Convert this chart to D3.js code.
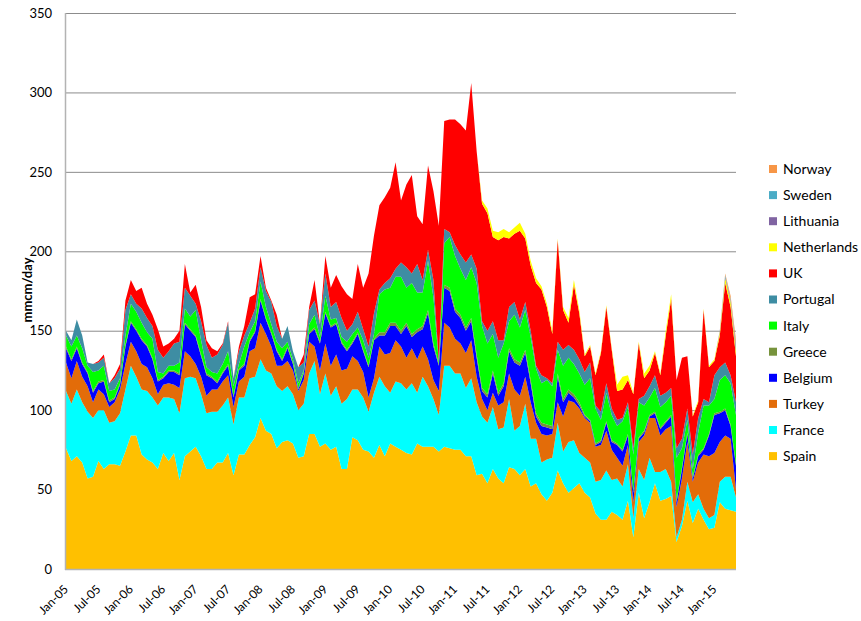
<!DOCTYPE html>
<html>
<head>
<meta charset="utf-8">
<script src="https://cdn.jsdelivr.net/npm/d3@7"></script>
<style>
  body { margin: 0; background: #fff; }
  svg { font-family: Lato, "Liberation Sans", sans-serif; }
</style>
</head>
<body>
<svg id="chart" width="861" height="621"></svg>
<script>
// monthly categories, Jan-05 .. May-15
const months = d3.timeMonth.range(new Date(2005, 0, 1), new Date(2015, 5, 1)).map(d3.timeFormat("%b-%y"));
const tickLabels = ["Jan-05","Jul-05","Jan-06","Jul-06","Jan-07","Jul-07","Jan-08","Jul-08","Jan-09","Jul-09",
  "Jan-10","Jul-10","Jan-11","Jul-11","Jan-12","Jul-12","Jan-13","Jul-13","Jan-14","Jul-14","Jan-15"];
const yTicks = [0, 50, 100, 150, 200, 250, 300, 350];

// values in mmcm/day, one row per year
const spain = [
  76,68,71,67,57,58,68,63,66,66,65,74,
  84,84,72,69,67,63,73,68,73,56,71,74,
  77,71,63,63,67,67,73,59,72,72,78,83,
  95,87,85,76,80,81,79,70,71,85,85,77,
  79,75,77,63,63,83,81,75,74,70,78,71,
  79,77,75,73,72,79,77,77,77,74,77,76,
  75,75,71,71,59,60,54,63,57,54,64,63,
  59,63,52,54,47,43,48,62,54,48,51,54,
  48,45,35,31,31,36,34,31,43,20,48,32,
  42,54,43,44,46,17,27,43,29,38,31,25,
  26,42,38,37,36];
const france = [
  36,36,42,38,42,37,32,37,26,27,33,39,
  44,37,41,43,41,40,35,40,34,42,49,47,
  43,39,35,36,32,36,35,32,36,36,42,38,
  37,38,38,39,32,34,31,30,33,38,46,33,
  44,34,38,41,44,30,32,33,25,41,43,44,
  32,41,42,40,45,32,44,38,30,23,51,52,
  48,48,43,49,46,36,38,39,31,35,43,24,
  31,41,30,28,20,26,22,30,20,32,30,19,
  22,22,20,25,31,20,23,21,23,12,15,24,
  28,7,18,19,9,3,4,12,13,9,7,7,
  8,13,20,21,9];
const turkey = [
  18,16,18,16,16,10,13,10,10,12,15,16,
  15,16,16,15,12,7,8,9,9,16,17,13,
  9,11,11,14,14,15,14,11,10,13,17,18,
  23,23,17,13,16,16,15,12,15,20,9,15,
  19,19,20,21,19,21,18,16,9,9,19,20,
  25,26,23,20,22,21,19,17,12,15,27,24,
  22,19,22,24,16,11,8,9,15,16,16,26,
  19,17,23,10,18,15,15,13,22,26,24,28,
  25,25,22,22,25,19,13,13,12,10,17,28,
  25,34,23,25,35,19,26,25,13,20,34,39,
  39,25,26,24,5];
const belgium = [
  9,11,8,8,8,6,4,8,3,2,3,11,
  12,13,15,13,12,8,4,7,8,8,17,16,
  17,13,13,7,4,5,6,6,7,7,6,10,
  14,9,8,9,3,8,4,1,4,5,11,17,
  19,24,19,17,11,8,17,13,19,24,7,12,
  17,9,8,20,7,17,11,29,21,16,22,23,
  17,16,14,12,12,5,8,12,6,10,14,17,
  19,15,12,4,5,5,3,16,9,5,3,2,
  1,1,1,2,5,5,8,9,6,6,2,2,
  1,3,4,4,6,3,6,5,2,4,3,13,
  24,18,16,8,15];
const greece = [
  1,1,1,1,1,1,1,1,1,1,1,1,
  1,1,1,1,1,1,1,1,1,1,1,1,
  1,1,1,1,1,1,1,1,1,1,1,1,
  1,1,1,1,1,1,1,1,1,1,1,1,
  1,1,1,1,1,1,1,1,1,1,2,2,
  2,2,2,2,2,2,2,2,2,1,2,2,
  2,2,2,2,2,2,2,2,2,2,2,2,
  2,2,2,2,2,2,2,2,2,2,2,2,
  1,1,1,1,1,1,1,1,1,1,1,1,
  1,1,1,1,1,1,1,1,1,1,1,1,
  1,1,1,1,1];
const italy = [
  7,8,7,9,4,12,7,9,6,5,3,6,
  11,11,10,8,12,5,2,3,3,7,9,8,
  16,9,4,3,5,5,8,6,3,11,5,6,
  11,7,5,5,7,3,2,3,1,5,8,3,
  10,4,3,3,5,5,3,6,5,3,24,27,
  22,29,34,22,32,23,21,31,29,1,26,32,
  33,29,30,32,45,39,32,23,22,25,17,28,
  22,25,27,28,25,28,25,15,21,20,19,18,
  19,26,22,13,18,16,11,18,17,23,22,16,
  11,15,13,12,12,27,12,8,5,14,27,18,
  9,20,21,26,31];
const portugal = [
  3,4,10,8,2,5,5,5,5,7,6,16,
  6,5,9,9,8,14,10,9,14,13,13,13,
  4,12,14,9,12,12,18,5,8,7,6,8,
  9,10,14,10,6,10,5,10,5,9,9,8,
  14,8,10,12,7,6,10,7,7,13,3,4,
  6,5,9,13,6,18,8,7,11,1,9,3,
  7,9,11,8,9,3,8,8,11,2,9,8,
  5,5,4,2,5,1,2,5,10,8,9,9,
  8,10,2,5,6,4,4,2,3,4,2,6,
  7,8,7,6,5,6,6,7,9,9,4,2,
  15,8,8,5,8];
const uk = [
  0,0,0,0,0,0,1,2,0,2,3,6,
  9,8,13,9,7,13,7,5,3,7,15,2,
  12,9,3,6,2,1,1,0,3,6,16,9,
  7,2,1,7,0,0,0,0,5,2,13,0,
  11,12,17,20,23,16,30,26,46,49,53,54,
  57,67,39,52,62,30,35,53,56,85,68,71,
  79,82,83,108,74,74,74,53,63,65,43,43,
  56,40,41,52,54,45,31,64,25,14,41,29,
  10,10,19,37,48,37,18,18,14,34,35,11,
  10,14,13,36,56,43,51,33,24,10,56,22,
  9,20,50,43,29];
const netherlands = [
  0,0,0,0,0,0,0,0,0,0,0,0,
  0,0,0,0,0,0,0,0,0,0,0,0,
  0,0,0,0,0,0,0,0,0,0,0,0,
  0,0,0,0,0,0,0,0,0,0,0,0,
  0,0,0,0,0,0,0,0,0,0,0,0,
  0,0,0,0,0,0,0,0,0,0,0,0,
  0,0,0,0,0,2,3,4,5,5,4,4,
  5,3,3,3,2,2,2,1,2,3,3,2,
  1,1,1,1,1,1,4,8,3,1,1,3,
  3,1,1,3,3,0,0,0,1,1,1,1,
  1,2,3,3,3];
const lithuania = [
  0,0,0,0,0,0,0,0,0,0,0,0,
  0,0,0,0,0,0,0,0,0,0,0,0,
  0,0,0,0,0,0,0,0,0,0,0,0,
  0,0,0,0,0,0,0,0,0,0,0,0,
  0,0,0,0,0,0,0,0,0,0,0,0,
  0,0,0,0,0,0,0,0,0,0,0,0,
  0,0,0,0,0,0,0,0,0,0,0,0,
  0,0,0,0,0,0,0,0,0,0,0,0,
  0,0,0,0,0,0,0,0,0,0,0,0,
  0,0,0,0,0,0,0,0,0,0,0,0,
  0,1,1,1,2];
const sweden = [
  0,0,0,0,0,0,0,0,0,0,0,0,
  0,0,0,0,0,0,0,0,0,0,0,0,
  0,0,0,0,0,0,0,0,0,0,0,0,
  0,0,0,0,0,0,0,0,0,0,0,0,
  0,0,0,0,0,0,0,0,0,0,0,0,
  0,0,0,0,0,0,0,0,0,0,0,0,
  0,0,0,0,0,0,0,0,0,0,0,0,
  0,0,0,0,0,0,0,0,0,0,0,0,
  0,0,0,0,0,0,0,0,0,0,0,0,
  0,0,0,0,0,0,0,0,0,0,0,0,
  0,0,1,1,2];
const norway = [
  0,0,0,0,0,0,0,0,0,0,0,0,
  0,0,0,0,0,0,0,0,0,0,0,0,
  0,0,0,0,0,0,0,0,0,0,0,0,
  0,0,0,0,0,0,0,0,0,0,0,0,
  0,0,0,0,0,0,0,0,0,0,0,0,
  0,0,0,0,0,0,0,0,0,0,0,0,
  0,0,0,0,0,0,0,0,0,0,0,0,
  0,0,0,0,0,0,0,0,0,0,0,0,
  0,0,0,0,0,0,0,0,0,0,0,0,
  0,0,0,0,0,0,0,0,0,0,0,0,
  0,0,1,2,3];

// stacking order, bottom to top
const series = [
  { name: "Spain", values: spain, color: "#ffc000" },
  { name: "France", values: france, color: "#00ffff" },
  { name: "Turkey", values: turkey, color: "#e36c09" },
  { name: "Belgium", values: belgium, color: "#0000ff" },
  { name: "Greece", values: greece, color: "#77933c" },
  { name: "Italy", values: italy, color: "#00ff00" },
  { name: "Portugal", values: portugal, color: "#3e8da3" },
  { name: "UK", values: uk, color: "#ff0000" },
  { name: "Netherlands", values: netherlands, color: "#ffff00" },
  { name: "Lithuania", values: lithuania, color: "#8064a2" },
  { name: "Sweden", values: sweden, color: "#4bacc6" },
  { name: "Norway", values: norway, color: "#f79646" }
];

const rows = months.map((m, i) => {
  const r = { month: m, idx: i };
  series.forEach(s => { r[s.name] = s.values[i]; });
  return r;
});

const svg = d3.select("#chart");
const margin = { left: 66, right: 736, top: 13, bottom: 569 };

const x = d3.scaleLinear().domain([0, months.length - 1]).range([margin.left, margin.right]);
const y = d3.scaleLinear().domain([0, 350]).range([margin.bottom, margin.top]);

// gridlines
svg.append("g")
  .selectAll("line")
  .data(yTicks.filter(d => d > 0))
  .join("line")
  .attr("x1", margin.left).attr("x2", margin.right)
  .attr("y1", d => y(d) + 0.5).attr("y2", d => y(d) + 0.5)
  .attr("stroke", "#8c8c8c").attr("stroke-width", 1);

const stack = d3.stack().keys(series.map(s => s.name));
const layers = stack(rows);

const area = d3.area()
  .x(d => x(d.data.idx))
  .y0(d => y(d[0]))
  .y1(d => y(d[1]));

svg.append("g")
  .selectAll("path")
  .data(layers)
  .join("path")
  .attr("d", area)
  .attr("fill", (d, i) => series[i].color);

// axis lines
svg.append("line")
  .attr("x1", margin.left - 0.5).attr("x2", margin.left - 0.5)
  .attr("y1", margin.top).attr("y2", margin.bottom + 1)
  .attr("stroke", "#b3b3b3").attr("stroke-width", 1.5);
svg.append("line")
  .attr("x1", margin.left - 1).attr("x2", margin.right)
  .attr("y1", margin.bottom + 0.5).attr("y2", margin.bottom + 0.5)
  .attr("stroke", "#b3b3b3").attr("stroke-width", 1.5);

// y axis labels
const yAxis = d3.axisLeft(y).tickValues(yTicks).tickSize(0).tickPadding(14);
const yg = svg.append("g").attr("transform", `translate(${margin.left},0)`).call(yAxis);
yg.select(".domain").remove();
yg.selectAll("text").attr("font-size", 13).attr("fill", "#000").attr("font-family", "Lato, sans-serif");

svg.append("text")
  .attr("transform", "translate(32,290) rotate(-90)")
  .attr("text-anchor", "middle")
  .attr("font-size", 13)
  .attr("font-weight", "bold")
  .text("mmcm/day");

// x axis labels, rotated
svg.append("g")
  .selectAll("text")
  .data(tickLabels)
  .join("text")
  .attr("transform", d => `translate(${x(months.indexOf(d)) + 3},590) rotate(-45)`)
  .attr("text-anchor", "end")
  .attr("font-size", 12)
  .attr("fill", "#000")
  .text(d => d);

// legend, top to bottom
const legend = svg.append("g")
  .selectAll("g")
  .data(series.slice().reverse())
  .join("g")
  .attr("transform", (d, i) => `translate(769,${169 + i * 26.1})`);
legend.append("rect")
  .attr("x", 0).attr("y", -4).attr("width", 8).attr("height", 8)
  .attr("fill", d => d.color);
legend.append("text")
  .attr("x", 14).attr("y", 0).attr("dy", "0.35em")
  .attr("font-size", 14)
  .text(d => d.name);
</script>
</body>
</html>
